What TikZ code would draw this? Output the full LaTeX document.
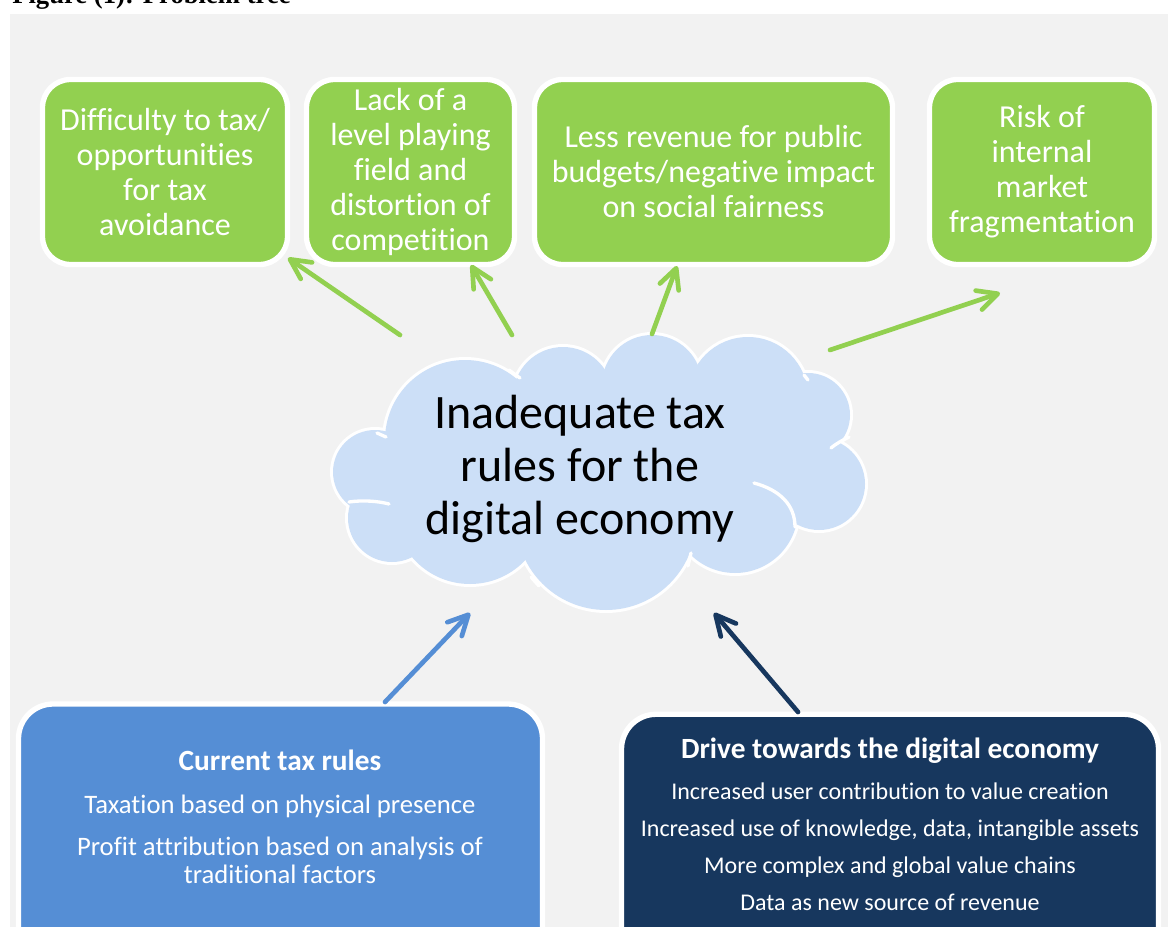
\documentclass[tikz,border=0pt]{standalone}
\usepackage{fontspec}
\setmainfont{Carlito}[Ligatures=NoCommon]
\newfontfamily\timesfont{Liberation Serif}
\usetikzlibrary{arrows.meta}
\definecolor{bgc}{RGB}{242,242,242}
\definecolor{grn}{RGB}{146,208,80}
\definecolor{cloudc}{RGB}{204,223,247}
\definecolor{blu}{RGB}{85,142,213}
\definecolor{navy}{RGB}{23,55,94}
\begin{document}
\begin{tikzpicture}[x=0.75pt,y=-0.75pt,
  gbox/.style={rectangle, rounded corners=21pt, fill=grn, draw=white, line width=4pt,
    text=white, align=center, inner sep=0pt, minimum height=138.75pt,
    font=\fontsize{24}{26.25}\selectfont},
  bigbox/.style={rectangle, rounded corners=26pt, draw=white, line width=4pt, inner sep=0pt},
  boxtext/.style={text=white, align=center, inner sep=0pt, anchor=base},
  arr/.style={line width=3.5pt, line cap=round, -{Straight Barb[length=15pt,width=15pt,round]}},
  puffline/.style={white, line width=2.5pt, line cap=round}
]
\useasboundingbox (0,0) rectangle (1170,927);
\clip (0,0) rectangle (1170,927);
\fill[white] (0,0) rectangle (1170,927);
\fill[bgc] (10,14) rectangle (1168,940);

\node[font=\timesfont\bfseries\fontsize{20}{24}\selectfont, anchor=base west, inner sep=0pt] (title) at (12,4) {Figure (1): Problem tree};

% top effect boxes
\node[gbox, minimum width=183.75pt] (b1) at (165,172) {Difficulty to tax/\\opportunities\\for tax\\avoidance};
\node[gbox, minimum width=156pt] (b2) at (410.5,172) {Lack of a\\level playing\\field and\\distortion of\\competition};
\node[gbox, minimum width=268.5pt] (b3) at (713.5,172) {Less revenue for public\\budgets/negative impact\\on social fairness};
\node[gbox, minimum width=168.75pt] (b4) at (1042,172) {Risk of\\internal\\market\\fragmentation};

% cloud
\foreach \cx/\cy/\r in {375/472/42, 392/518/44, 470/508/76, 606/520/90, 735/510/63, 819/484/46, 808/415/42, 748/397/60, 652/385/50, 563/397/50, 465/440/80}
  \draw[white, line width=4.5pt] (\cx,\cy) circle[radius=\r];
\foreach \cx/\cy/\r in {375/472/42, 392/518/44, 470/508/76, 606/520/90, 735/510/63, 819/484/46, 808/415/42, 748/397/60, 652/385/50, 563/397/50, 465/440/80}
  \fill[cloudc] (\cx,\cy) circle[radius=\r];
\fill[cloudc] (600,470) ellipse[x radius=200, y radius=95];
\draw[puffline] (754,483) .. controls (780,490) and (795,505) .. (795,527);
\draw[puffline] (349,502) .. controls (362,500) and (378,501) .. (389,504);
\draw[puffline] (831,448) .. controls (837,443) and (843,440) .. (849,437);
\draw[puffline] (509,370) -- (520,378);
\draw[puffline] (804,375) -- (808,380);
\draw[puffline] (531,577) -- (539,586);
\draw[puffline] (688,566) -- (691,553);
\draw[puffline] (377,433) -- (386,437);

\node[align=center, inner sep=0pt, font=\fontsize{36}{40}\selectfont] (cloud) at (580,469) {Inadequate tax\\rules for the\\digital economy};

% bottom cause boxes
\node[bigbox, fill=blu, minimum width=393pt, minimum height=207pt] (cb) at (280.5,842) {};
\node[boxtext, font=\fontsize{20}{21}\selectfont] (cbt) at (280,883.5) {{\fontsize{22}{21}\selectfont\bfseries Current tax rules}\\[11pt]
  Taxation based on physical presence\\[10.5pt]
  Profit attribution based on analysis of\\
  traditional factors};

\node[bigbox, fill=navy, minimum width=402.75pt, minimum height=206.6pt] (db) at (890,852) {};
\node[boxtext, font=\fontsize{18}{27.6}\selectfont] (dbt) at (890,910) {{\fontsize{22}{27.6}\selectfont\bfseries Drive towards the digital economy}\\[3.3pt]
  Increased user contribution to value creation\\
  Increased use of knowledge, data, intangible assets\\
  More complex and global value chains\\
  Data as new source of revenue};

% arrow end points
\coordinate (g1s) at (400,335); \coordinate (g1e) at (288,258);
\coordinate (g2s) at (512,335); \coordinate (g2e) at (471,265);
\coordinate (g3s) at (652,334); \coordinate (g3e) at (677,266);
\coordinate (g4s) at (830,350); \coordinate (g4e) at (1000,293);
\coordinate (bls) at (385,702); \coordinate (ble) at (470,613);
\coordinate (nvs) at (798,712); \coordinate (nve) at (714,613);

\draw[arr, grn] (g1s) -- (g1e);
\draw[arr, grn] (g2s) -- (g2e);
\draw[arr, grn] (g3s) -- (g3e);
\draw[arr, grn] (g4s) -- (g4e);
\draw[arr, blu] (bls) -- (ble);
\draw[arr, navy] (nvs) -- (nve);
\end{tikzpicture}
\end{document}
